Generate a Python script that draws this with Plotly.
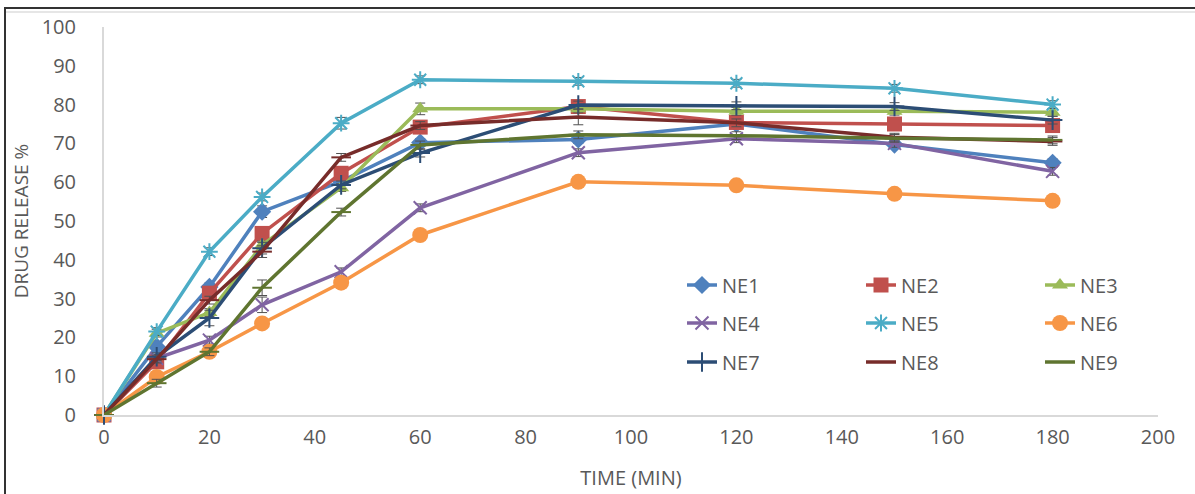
import plotly.graph_objects as go

time_min = [0, 10, 20, 30, 45, 60, 90, 120, 150, 180]

ne1 = [0, 17.6, 33.0, 52.4, 60.2, 70.2, 71.0, 75.0, 69.7, 65.0]
ne2 = [0, 13.7, 31.4, 46.8, 62.3, 74.2, 79.5, 75.4, 75.0, 74.6]
ne3 = [0, 21.1, 26.4, 43.8, 58.6, 78.9, 78.9, 78.3, 78.3, 78.0]
ne4 = [0, 14.6, 19.3, 28.4, 36.9, 53.4, 67.6, 71.2, 70.0, 62.8]
ne5 = [0, 21.5, 42.1, 56.2, 75.2, 86.4, 86.0, 85.5, 84.2, 80.0]
ne6 = [0, 9.8, 16.3, 23.6, 34.1, 46.4, 60.1, 59.2, 57.0, 55.2]
ne7 = [0, 15.0, 25.0, 43.0, 59.3, 67.5, 79.9, 79.7, 79.5, 76.0]
ne8 = [0, 14.4, 29.6, 42.1, 66.4, 74.6, 76.8, 75.3, 71.6, 70.5]
ne9 = [0, 8.2, 16.3, 32.8, 52.3, 69.6, 72.2, 72.0, 71.3, 70.9]

err1 = [0, 1.0, 1.0, 1.5, 1.0, 1.0, 1.0, 1.0, 1.0, 1.0]
err2 = [0, 1.0, 1.0, 1.5, 1.0, 1.0, 1.0, 1.0, 1.0, 1.0]
err3 = [0, 1.0, 1.0, 1.0, 1.0, 1.5, 1.0, 1.0, 1.0, 1.0]
err4 = [0, 1.0, 1.0, 2.0, 1.0, 1.0, 1.0, 1.0, 1.0, 1.0]
err5 = [0, 1.0, 1.0, 1.0, 1.5, 1.0, 1.0, 1.0, 1.0, 1.0]
err6 = [0, 1.0, 1.0, 1.0, 1.0, 1.0, 1.0, 1.0, 1.0, 1.0]
err7 = [0, 1.0, 2.0, 1.5, 1.0, 1.0, 1.0, 1.0, 1.0, 1.0]
err8 = [0, 1.0, 1.0, 1.5, 1.0, 1.0, 2.0, 1.0, 1.0, 1.0]
err9 = [0, 1.0, 1.0, 2.0, 1.0, 1.0, 1.0, 1.0, 1.0, 1.0]

names = ["NE1", "NE2", "NE3", "NE4", "NE5", "NE6", "NE7", "NE8", "NE9"]
series = [ne1, ne2, ne3, ne4, ne5, ne6, ne7, ne8, ne9]
errors = [err1, err2, err3, err4, err5, err6, err7, err8, err9]
colors = ["#4F81BD", "#C0504D", "#9BBB59", "#8064A2", "#4BACC6",
          "#F79646", "#2C4D75", "#772C2A", "#5F7530"]
symbols = ["diamond", "square", "triangle-up", "x-thin-open", "asterisk-open",
           "circle", "cross-thin-open", "line-ew-open", "line-ew-open"]
sizes = [14, 15, 14, 13, 14, 16, 14, 14, 14]
legend_ids = ["legend", "legend", "legend", "legend2", "legend2", "legend2",
              "legend3", "legend3", "legend3"]

fig = go.Figure()
for name, y, e, c, s, sz, lg in zip(names, series, errors, colors, symbols, sizes, legend_ids):
    open_sym = s.endswith("-open")
    fig.add_trace(go.Scatter(
        x=time_min, y=y, name=name, mode="lines+markers",
        line=dict(color=c, width=3.5),
        marker=dict(symbol=s, size=sz, color=c,
                    line=dict(color=c, width=2 if open_sym else 0)),
        error_y=dict(type="data", array=e, visible=True, color="#505050",
                     thickness=1, width=5),
        legend=lg,
        cliponaxis=False,
    ))

font_family = "'Open Sans', sans-serif"
legend_common = dict(orientation="h", xanchor="left", yanchor="middle",
                     entrywidth=134, entrywidthmode="pixels",
                     font=dict(family=font_family, size=20, color="#595959"),
                     bgcolor="rgba(0,0,0,0)", itemwidth=30)

def px_x(p):
    return (p - 104) / 1054

def px_y(p):
    return (415 - p) / 388

fig.update_layout(
    width=1195, height=494,
    margin=dict(l=104, r=37, t=27, b=79, autoexpand=False),
    paper_bgcolor="white", plot_bgcolor="white",
    font=dict(family=font_family, color="#595959"),
    showlegend=True,
    legend=dict(x=px_x(682), y=px_y(285), **legend_common),
    legend2=dict(x=px_x(682), y=px_y(323), **legend_common),
    legend3=dict(x=px_x(682), y=px_y(362), **legend_common),
    xaxis=dict(range=[0, 200], tickvals=[0, 20, 40, 60, 80, 100, 120, 140, 160, 180, 200],
               showgrid=False, zeroline=False, showline=True, linecolor="#D9D9D9",
               linewidth=2, ticks="", tickfont=dict(size=20, color="#595959"),
               ticklabelstandoff=3,
               title=dict(text="TIME (MIN)", font=dict(size=20, color="#595959"), standoff=22)),
    yaxis=dict(range=[0, 100], tickvals=[0, 10, 20, 30, 40, 50, 60, 70, 80, 90, 100],
               showgrid=False, zeroline=False, showline=True, linecolor="#D9D9D9",
               linewidth=2, ticks="", tickfont=dict(size=20, color="#595959"),
               ticklabelstandoff=22,
               title=dict(text="DRUG RELEASE %", font=dict(size=19, color="#595959"), standoff=8)),
    shapes=[
        dict(type="line", xref="paper", yref="paper", x0=px_x(5), x1=px_x(1196),
             y0=px_y(8), y1=px_y(8), line=dict(color="#333333", width=2), layer="above"),
        dict(type="line", xref="paper", yref="paper", x0=px_x(5), x1=px_x(1196),
             y0=px_y(12), y1=px_y(12), line=dict(color="#E6E6E6", width=2), layer="above"),
        dict(type="line", xref="paper", yref="paper", x0=px_x(5), x1=px_x(5),
             y0=px_y(7), y1=px_y(500), line=dict(color="#333333", width=2), layer="above"),
    ],
)

fig.write_html("out.html")
